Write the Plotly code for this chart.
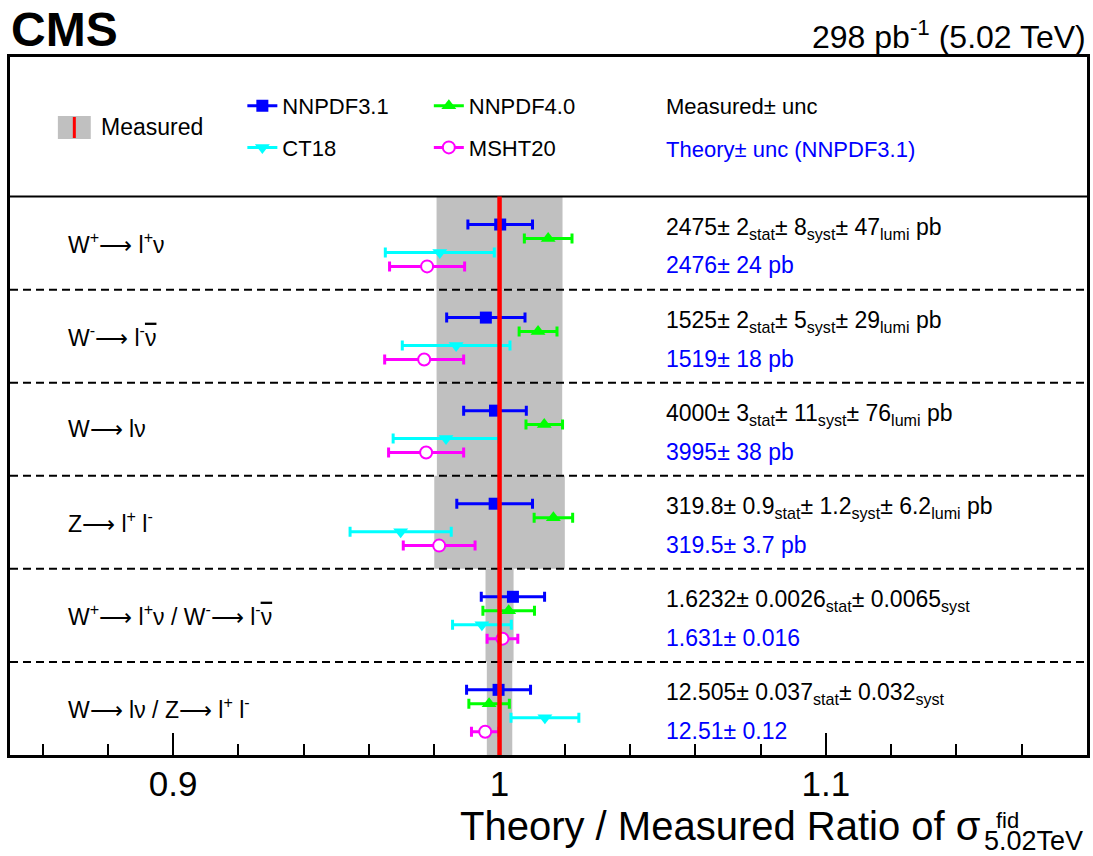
import plotly.graph_objects as go

# ---------------- data ----------------
ARROW = "⟶"
NUBAR = '<span style="text-decoration:overline">ν</span>'
row_labels = [
    f"W<sup>+</sup>{ARROW} l<sup>+</sup>ν",
    f"W<sup>-</sup>{ARROW} l<sup>-</sup>{NUBAR}",
    f"W{ARROW} lν",
    f"Z{ARROW} l<sup>+</sup> l<sup>-</sup>",
    f"W<sup>+</sup>{ARROW} l<sup>+</sup>ν / W<sup>-</sup>{ARROW} l<sup>-</sup>{NUBAR}",
    f"W{ARROW} lν / Z{ARROW} l<sup>+</sup> l<sup>-</sup>",
]
measured_text = [
    "2475± 2<sub>stat</sub>± 8<sub>syst</sub>± 47<sub>lumi</sub> pb",
    "1525± 2<sub>stat</sub>± 5<sub>syst</sub>± 29<sub>lumi</sub> pb",
    "4000± 3<sub>stat</sub>± 11<sub>syst</sub>± 76<sub>lumi</sub> pb",
    "319.8± 0.9<sub>stat</sub>± 1.2<sub>syst</sub>± 6.2<sub>lumi</sub> pb",
    "1.6232± 0.0026<sub>stat</sub>± 0.0065<sub>syst</sub>",
    "12.505± 0.037<sub>stat</sub>± 0.032<sub>syst</sub>",
]
theory_text = ["2476± 24 pb", "1519± 18 pb", "3995± 38 pb",
               "319.5± 3.7 pb", "1.631± 0.016", "12.51± 0.12"]

# relative uncertainty of the measurement (grey band half-width)
measured_unc = [0.0193, 0.0193, 0.0192, 0.0200, 0.0043, 0.0039]

series_names = ["NNPDF3.1", "NNPDF4.0", "CT18", "MSHT20"]
nnpdf31 = [1.0002, 0.9958, 0.9986, 0.9985, 1.0041, 0.9997]
nnpdf31_err = [0.0099, 0.0120, 0.0096, 0.0116, 0.0097, 0.0098]
nnpdf40 = [1.0149, 1.0118, 1.0137, 1.0165, 1.0028, 0.9968]
nnpdf40_err = [0.0073, 0.0058, 0.0056, 0.0059, 0.0079, 0.0062]
ct18 = [0.9817, 0.9867, 0.9836, 0.9697, 0.9946, 1.0139]
ct18_err = [0.0167, 0.0165, 0.0162, 0.0155, 0.0090, 0.0104]
msht20 = [0.9778, 0.9769, 0.9775, 0.9815, 1.0009, 0.9956]
msht20_err = [0.0115, 0.0121, 0.0115, 0.0110, 0.0047, 0.0042]

# ---------------- styling ----------------
FONT = "Liberation Sans, Arial, sans-serif"
colors = ["#0000ff", "#00ff00", "#00ffff", "#ff00ff"]
symbols = ["square", "triangle-up", "triangle-down", "circle"]
msizes = [12, 13, 13, 12]
offsets = [0.30, 0.45, 0.60, 0.75]     # vertical offset inside a row
n_rows = len(row_labels)
top_of_rows = n_rows                   # rows occupy y in [0, 6]; header [6, 7.5]

values = [nnpdf31, nnpdf40, ct18, msht20]
errors = [nnpdf31_err, nnpdf40_err, ct18_err, msht20_err]

fig = go.Figure()

for s in range(4):
    ys = [top_of_rows - k - offsets[s] for k in range(n_rows)]
    is_open = symbols[s] == "circle"
    fig.add_trace(go.Scatter(
        x=values[s], y=ys, mode="markers", showlegend=False,
        marker=dict(symbol=symbols[s], size=msizes[s],
                    color="white" if is_open else colors[s],
                    line=dict(color=colors[s], width=2 if is_open else 0)),
        error_x=dict(type="data", array=errors[s], color=colors[s],
                     thickness=3, width=5),
    ))

# legend-only entries (line + marker glyph)
legend_ids = ["legend", "legend2", "legend", "legend2"]
for s in range(4):
    is_open = symbols[s] == "circle"
    fig.add_trace(go.Scatter(
        x=[None], y=[None], mode="lines+markers", name=series_names[s],
        legend=legend_ids[s], legendgroup=series_names[s],
        line=dict(color=colors[s], width=3),
        marker=dict(symbol=symbols[s], size=msizes[s],
                    color="white" if is_open else colors[s],
                    line=dict(color=colors[s], width=2 if is_open else 0)),
    ))

shapes = []
# grey measurement bands
for k in range(n_rows):
    shapes.append(dict(type="rect", xref="x", yref="y",
                       x0=1 - measured_unc[k], x1=1 + measured_unc[k],
                       y0=top_of_rows - k - 1, y1=top_of_rows - k,
                       fillcolor="#c0c0c0", line=dict(width=0), layer="below"))
# header separator
shapes.append(dict(type="line", xref="paper", yref="y", x0=0, x1=1,
                   y0=top_of_rows, y1=top_of_rows,
                   line=dict(color="black", width=2), layer="above"))
# dashed row separators
for k in range(1, n_rows):
    shapes.append(dict(type="line", xref="paper", yref="y", x0=0, x1=1,
                       y0=k, y1=k, line=dict(color="black", width=2, dash="8px,5px"),
                       layer="above"))
# red measured line
shapes.append(dict(type="line", xref="x", yref="y", x0=1, x1=1, y0=0, y1=top_of_rows,
                   line=dict(color="#ff0000", width=4.5), layer="above"))

# "Measured" legend glyph
H = 698.0
def py(p):  # pixel y (from top of page) -> paper
    return (755 - p) / H
def px(p):  # pixel x -> paper
    return (p - 10) / 1080.0

shapes.append(dict(type="rect", xref="paper", yref="paper",
                   x0=px(58), x1=px(91), y0=py(139), y1=py(116),
                   fillcolor="#c0c0c0", line=dict(width=0), layer="above"))
shapes.append(dict(type="line", xref="paper", yref="paper",
                   x0=px(74.5), x1=px(74.5), y0=py(138), y1=py(117),
                   line=dict(color="#ff0000", width=3), layer="above"))

ann = []
ann.append(dict(text="Measured", xref="paper", yref="paper", x=px(99), y=py(127),
                xanchor="left", yanchor="middle", showarrow=False,
                font=dict(size=23, color="black", family=FONT)))
ann.append(dict(text="Measured± unc", xref="paper", yref="paper", x=px(666), y=py(107),
                xanchor="left", yanchor="middle", showarrow=False,
                font=dict(size=22, color="black", family=FONT)))
ann.append(dict(text="Theory± unc (NNPDF3.1)", xref="paper", yref="paper", x=px(666),
                y=py(150), xanchor="left", yanchor="middle", showarrow=False,
                font=dict(size=22, color="#0000ff", family=FONT)))

for k in range(n_rows):
    ann.append(dict(text=row_labels[k], xref="paper", yref="y", x=px(66),
                    y=top_of_rows - k - 0.5, xanchor="left", yanchor="middle",
                    showarrow=False, font=dict(size=23, color="black", family=FONT)))
    ann.append(dict(text=measured_text[k], xref="paper", yref="y", x=px(666),
                    y=top_of_rows - k - 0.34, xanchor="left", yanchor="middle",
                    showarrow=False, font=dict(size=23, color="black", family=FONT)))
    ann.append(dict(text=theory_text[k], xref="paper", yref="y", x=px(666),
                    y=top_of_rows - k - 0.74, xanchor="left", yanchor="middle",
                    showarrow=False, font=dict(size=23, color="#0000ff", family=FONT)))

# top labels
ann.append(dict(text="<b>CMS</b>", xref="paper", yref="paper", x=px(9), y=py(30),
                xanchor="left", yanchor="middle", showarrow=False,
                font=dict(size=48, color="black", family=FONT)))
ann.append(dict(text="298 pb<sup>-1</sup> (5.02 TeV)", xref="paper", yref="paper",
                x=px(1091), y=py(35), xanchor="right", yanchor="middle", showarrow=False,
                font=dict(size=32, color="black", family=FONT)))

# x-axis title (sigma with stacked super/subscript)
ann.append(dict(text="Theory / Measured Ratio of σ", xref="paper", yref="paper",
                x=px(986), y=py(826), xanchor="right", yanchor="middle", showarrow=False,
                font=dict(size=40, color="black", family=FONT)))
ann.append(dict(text="fid", xref="paper", yref="paper", x=px(997), y=py(820),
                xanchor="left", yanchor="middle", showarrow=False,
                font=dict(size=22, color="black", family=FONT)))
ann.append(dict(text="5.02TeV", xref="paper", yref="paper", x=px(985), y=py(841),
                xanchor="left", yanchor="middle", showarrow=False,
                font=dict(size=27, color="black", family=FONT)))

fig.update_layout(
    width=1093, height=856, autosize=False,
    margin=dict(l=10, r=3, t=57, b=101, pad=0),
    paper_bgcolor="white", plot_bgcolor="white",
    font=dict(family=FONT, color="black"),
    shapes=shapes, annotations=ann,
    xaxis=dict(range=[0.85, 1.18], tickmode="linear", tick0=0.9, dtick=0.1,
               ticks="inside", ticklen=22, tickwidth=2, tickcolor="black",
               minor=dict(ticks="inside", ticklen=11, tickwidth=2, dtick=0.02,
                          tick0=0.86, tickcolor="black"),
               showline=True, mirror=True, linewidth=3, linecolor="black",
               showgrid=False, zeroline=False,
               tickfont=dict(size=35, family=FONT, color="black"),
               ticklabelstandoff=-4),
    yaxis=dict(range=[0, 7.5], showticklabels=False, ticks="", showgrid=False,
               zeroline=False, showline=True, mirror=True, linewidth=3,
               linecolor="black"),
    legend=dict(x=px(243), y=py(85), xanchor="left", yanchor="top",
                font=dict(size=22, family=FONT, color="black"),
                bgcolor="rgba(0,0,0,0)", tracegroupgap=10, traceorder="grouped",
                itemwidth=30),
    legend2=dict(x=px(430), y=py(85), xanchor="left", yanchor="top",
                 font=dict(size=22, family=FONT, color="black"),
                 bgcolor="rgba(0,0,0,0)", tracegroupgap=10, traceorder="grouped",
                 itemwidth=30),
)

fig.write_html("out.html",
               config={"displayModeBar": False},
               post_script="document.body.style.margin='0px';"
                           "document.body.style.overflow='hidden';")
